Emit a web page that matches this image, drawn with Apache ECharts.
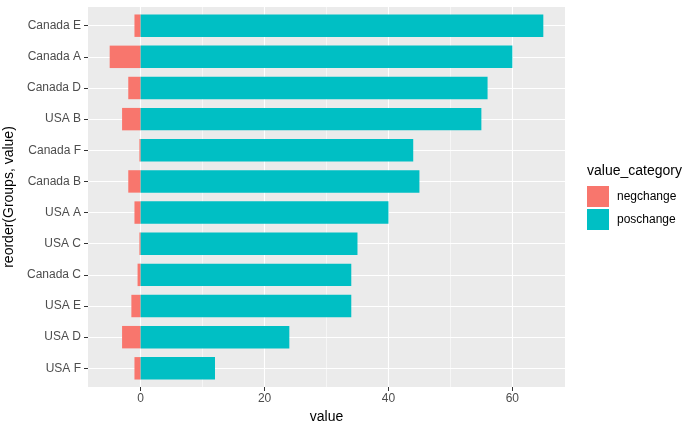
<!DOCTYPE html>
<html>
<head>
<meta charset="utf-8">
<script src="https://cdn.jsdelivr.net/npm/echarts@6/dist/echarts.min.js"></script>
<style>html,body{margin:0;padding:0;background:#fff;}#c{width:700px;height:432px;}</style>
</head>
<body>
<div id="c"></div>
<script>
const categories = ['USA F','USA D','USA E','Canada C','USA C','USA A','Canada B','Canada F','USA B','Canada D','Canada A','Canada E'];
const negchange = [-1,-3,-1.5,-0.5,-0.2,-1,-2,-0.2,-3,-2,-5,-1];
const poschange = [12,24,34,34,35,40,45,44,55,56,60,65];
const xTicks = [0,20,40,60];
const xMinor = [10,30,50];
const seriesNames = ['negchange','poschange'];

const xMin = -8.5, xMax = 68.5;
// ggplot-style discrete expansion (0.6 units each side) for the category axis
const panelTop = 7, panelBottom = 45, panelH = 432 - panelTop - panelBottom;
const unit = panelH / (categories.length - 1 + 1.2);
const inset = 0.1 * unit;

const chart = echarts.init(document.getElementById('c'));
const font = 'Liberation Sans, Arial, sans-serif';
chart.setOption({
  animation:false,
  textStyle:{fontFamily:font},
  title:{text:'value_category',left:587,top:164,padding:0,
    textStyle:{fontSize:14,fontWeight:'normal',color:'#000',fontFamily:font}},
  legend:{data:seriesNames,orient:'vertical',left:587,top:186,padding:0,
    itemWidth:22,itemHeight:21,itemGap:2,icon:'rect',
    textStyle:{fontSize:12,color:'#000',fontFamily:font,padding:[0,0,0,3]}},
  grid:[
    {left:88,right:135,top:panelTop,bottom:panelBottom,show:true,backgroundColor:'#EBEBEB',borderWidth:0,containLabel:false,outerBoundsMode:'none'},
    {left:88,right:135,top:panelTop+inset,bottom:panelBottom+inset,show:false,containLabel:false,outerBoundsMode:'none'}
  ],
  xAxis:[{
    gridIndex:0,type:'value',min:xMin,max:xMax,
    axisLine:{show:false,onZero:false},
    axisTick:{show:true,customValues:xTicks,length:4,lineStyle:{color:'#333333',width:1}},
    axisLabel:{customValues:xTicks,color:'#4D4D4D',fontSize:12,margin:6,fontFamily:font},
    splitLine:{show:true,lineStyle:{color:'#FFFFFF',width:1.1}},
    name:'value',nameLocation:'middle',nameGap:22,
    nameTextStyle:{fontSize:14,color:'#000',fontFamily:font}
  },{
    gridIndex:0,type:'value',min:xMin,max:xMax,position:'bottom',
    axisLine:{show:false,onZero:false},
    axisTick:{show:false,customValues:xMinor},
    axisLabel:{show:false,customValues:xMinor},
    splitLine:{show:true,lineStyle:{color:'#FFFFFF',width:0.55}}
  },{
    gridIndex:1,type:'value',min:xMin,max:xMax,show:false,
    axisLine:{show:false,onZero:false},
    splitLine:{show:false}
  }],
  yAxis:[{
    gridIndex:0,type:'category',data:categories,show:false,
    axisLine:{show:false,onZero:false},splitLine:{show:false}
  },{
    gridIndex:1,type:'category',data:categories,position:'left',
    axisLine:{show:false,onZero:false},
    axisTick:{show:true,alignWithLabel:true,length:4,lineStyle:{color:'#333333',width:1}},
    axisLabel:{color:'#4D4D4D',fontSize:12,margin:7,fontFamily:font},
    splitLine:{show:true,alignWithLabel:true,lineStyle:{color:'#FFFFFF',width:1.1}},
    name:'reorder(Groups, value)',nameLocation:'middle',nameGap:65,
    nameTextStyle:{fontSize:14,color:'#000',fontFamily:font}
  }],
  series:[
    {name:'negchange',type:'bar',stack:'total',xAxisIndex:2,yAxisIndex:1,data:negchange,barWidth:'72%',itemStyle:{color:'#F8766D'}},
    {name:'poschange',type:'bar',stack:'total',xAxisIndex:2,yAxisIndex:1,data:poschange,barWidth:'72%',itemStyle:{color:'#00BFC4'}}
  ]
});
</script>
</body>
</html>
